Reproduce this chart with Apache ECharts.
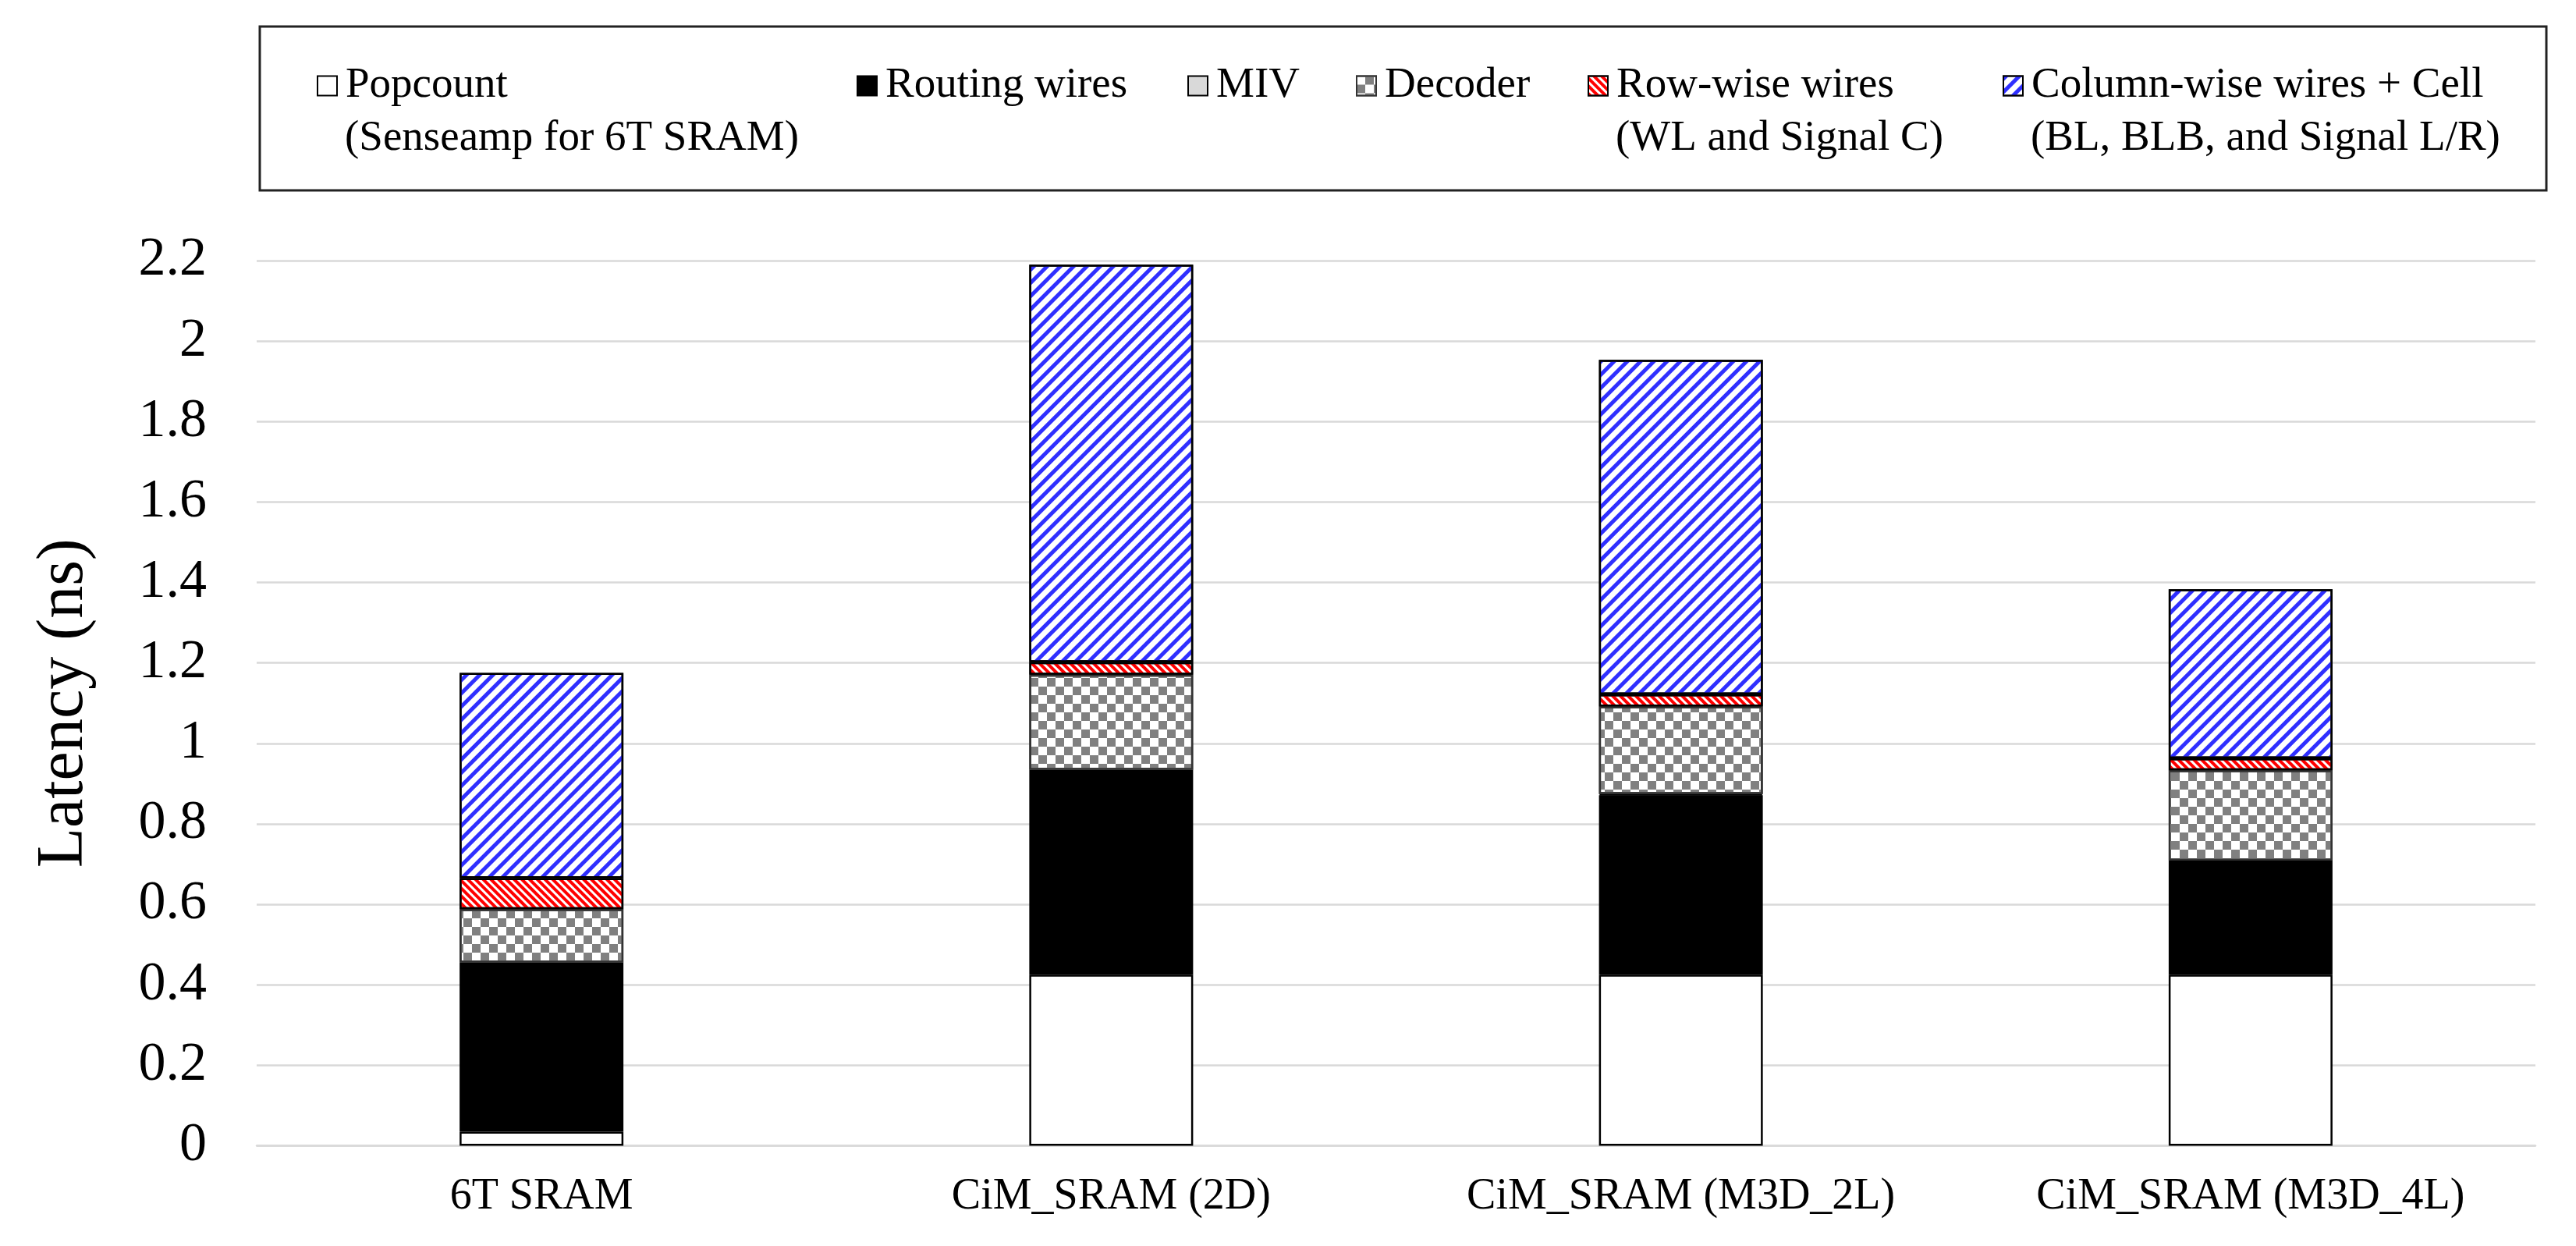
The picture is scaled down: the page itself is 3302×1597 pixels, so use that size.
<!DOCTYPE html>
<html>
<head>
<meta charset="utf-8">
<script src="https://cdn.jsdelivr.net/npm/echarts@6/dist/echarts.min.js"></script>
<style>
html,body{margin:0;padding:0;background:#fff;}
#chart{width:3302px;height:1597px;}
</style>
</head>
<body>
<div id="chart"></div>
<script>
var categories = ['6T SRAM', 'CiM_SRAM (2D)', 'CiM_SRAM (M3D_2L)', 'CiM_SRAM (M3D_4L)'];
var seriesNames = ['Popcount', 'Routing wires', 'MIV', 'Decoder', 'Row-wise wires', 'Column-wise wires + Cell'];
var seriesSubNames = ['(Senseamp for 6T SRAM)', '', '', '', '(WL and Signal C)', '(BL, BLB, and Signal L/R)'];
var popcount = [0.035, 0.425, 0.425, 0.425];
var routingWires = [0.42, 0.509, 0.446, 0.276];
var miv = [0, 0, 0.003, 0.008];
var decoder = [0.133, 0.237, 0.218, 0.224];
var rowWise = [0.077, 0.031, 0.03, 0.03];
var columnWise = [0.51, 0.988, 0.831, 0.42];
var yTicks = [0, 0.2, 0.4, 0.6, 0.8, 1, 1.2, 1.4, 1.6, 1.8, 2, 2.2];

var FONT = "'Liberation Serif', 'Times New Roman', serif";
var values = [popcount, routingWires, miv, decoder, rowWise, columnWise];

var styles = [
  {color: '#ffffff', borderColor: '#000', borderWidth: 2.5},
  {color: '#000000', borderColor: '#000', borderWidth: 2.5},
  {color: '#d9d9d9', borderColor: '#000', borderWidth: 2.5},
  {color: '#ffffff', borderColor: '#333', borderWidth: 2.5,
    decal: {symbol: 'rect', symbolSize: 1, dashArrayX: [[11, 11], [0, 11, 11, 0]], dashArrayY: [11, 0], color: '#808080'}},
  {color: '#ffffff', borderColor: '#000', borderWidth: 2.5,
    decal: {symbol: 'rect', symbolSize: 1, dashArrayX: [1, 0], dashArrayY: [4, 3], rotation: Math.PI / 4, color: '#ff0000'}},
  {color: '#ffffff', borderColor: '#000', borderWidth: 2.5,
    decal: {symbol: 'rect', symbolSize: 1, dashArrayX: [1, 0], dashArrayY: [4.5, 6.5], rotation: -Math.PI / 4, color: '#2f2fff'}}
];

var series = seriesNames.map(function (n, i) {
  return {
    name: n,
    type: 'bar',
    stack: 'total',
    barWidth: 210,
    itemStyle: styles[i],
    emphasis: {disabled: true},
    data: values[i].map(function (v) { return v === 0 ? null : v; })
  };
});

var legendLefts = [406, 1098, 1522, 1738, 2035, 2567];
var legendLine1Y = 110;
var legends = seriesNames.map(function (n, i) {
  return {
    left: legendLefts[i],
    top: legendLine1Y - 34,
    padding: 0,
    orient: 'horizontal',
    itemWidth: 25,
    itemHeight: 25,
    selectedMode: false,
    icon: 'rect',
    data: [n],
    textStyle: {
      fontFamily: FONT,
      fontSize: 55,
      color: '#000',
      lineHeight: 68,
      padding: [0, 0, 0, 6]
    }
  };
});

var graphics = [{
  type: 'rect',
  shape: {x: 333, y: 34, width: 2931, height: 210},
  style: {fill: 'none', stroke: '#222', lineWidth: 3},
  silent: true
}];
seriesSubNames.forEach(function (s, i) {
  if (!s) return;
  graphics.push({
    type: 'text',
    x: legendLefts[i] + 36,
    y: legendLine1Y + 68,
    silent: true,
    style: {text: s, fontFamily: FONT, fontSize: 55, fill: '#000', align: 'left', verticalAlign: 'middle'}
  });
});

var chart = echarts.init(document.getElementById('chart'), null, {renderer: 'canvas'});
chart.setOption({
  animation: false,
  backgroundColor: '#fff',
  legend: legends,
  graphic: graphics,
  grid: {left: 329, right: 52, top: 334, bottom: 128.5, containLabel: false},
  xAxis: {
    type: 'category',
    data: categories,
    axisLine: {show: true, lineStyle: {color: '#d9d9d9', width: 2.5}},
    axisTick: {show: false},
    axisLabel: {fontFamily: FONT, fontSize: 56, color: '#000', margin: 38}
  },
  yAxis: {
    type: 'value',
    min: yTicks[0],
    max: yTicks[yTicks.length - 1],
    interval: 0.2,
    name: 'Latency (ns)',
    nameLocation: 'middle',
    nameGap: 204,
    nameTextStyle: {fontFamily: FONT, fontSize: 84, color: '#000'},
    axisLine: {show: false},
    axisTick: {show: false},
    splitLine: {lineStyle: {color: '#d9d9d9', width: 2.5}},
    axisLabel: {fontFamily: FONT, fontSize: 70, color: '#000', margin: 64,
      formatter: function (v) { return String(Math.round(v * 10) / 10); }}
  },
  series: series
});
</script>
</body>
</html>
